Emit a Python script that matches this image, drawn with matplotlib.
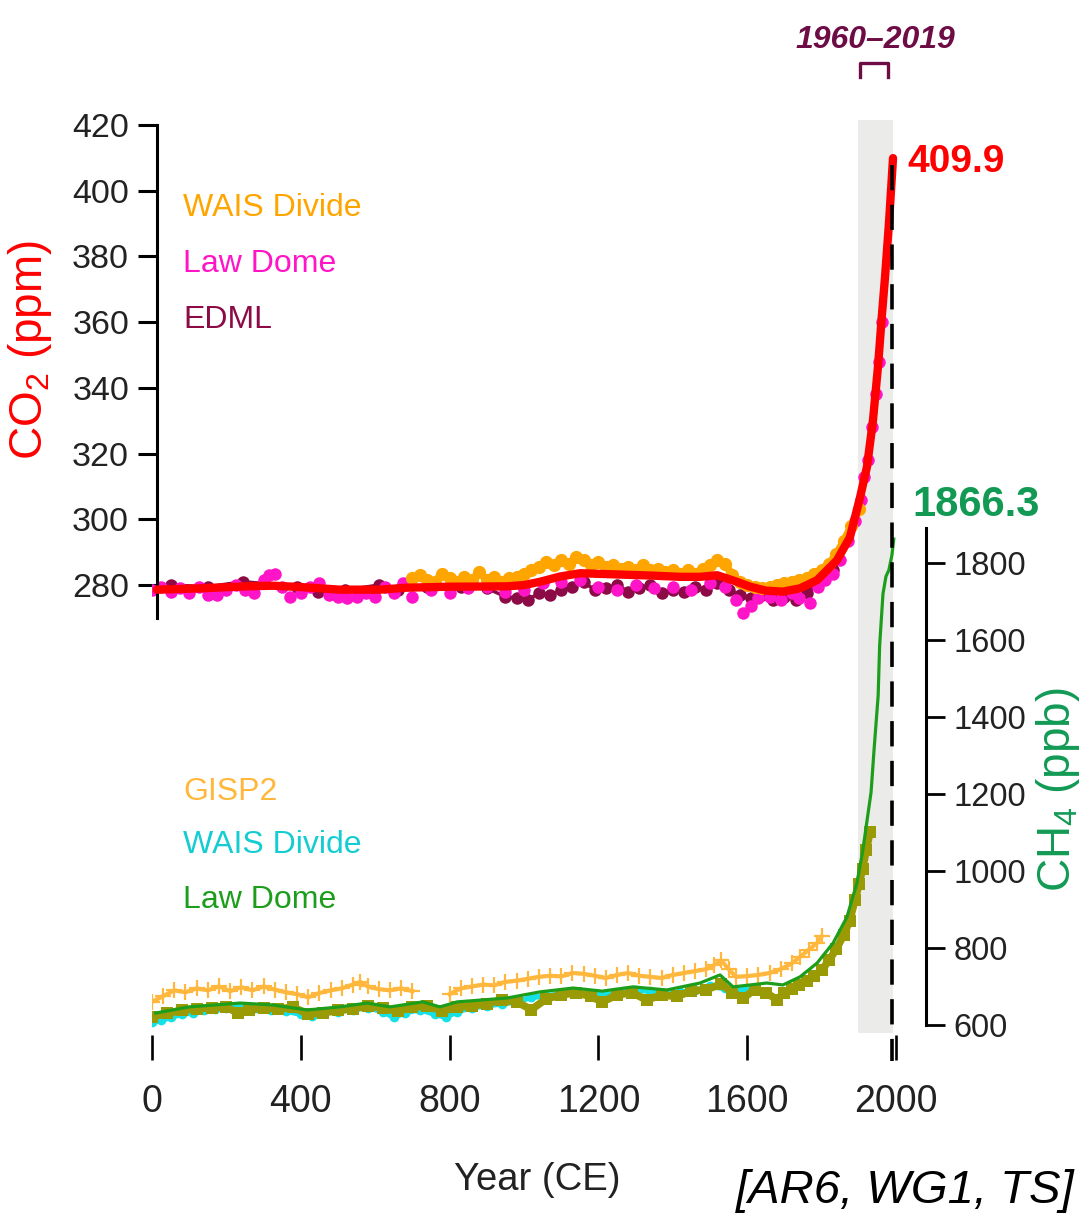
import matplotlib
matplotlib.use("Agg")
import matplotlib.pyplot as plt
from matplotlib.lines import Line2D
import numpy as np

W, H = 1081, 1215

# ---------------- data ----------------
# CO2 smoothed curve (ppm)
co2_fit_year = [13, 129, 250, 325, 400, 505, 613, 685, 801, 954, 1000, 1043, 1097, 1151,
                1258, 1339, 1420, 1473, 1519, 1567, 1608, 1650, 1696, 1742, 1788,
                1841, 1876, 1903, 1922, 1938, 1952, 1962, 1970, 1981, 1992]
co2_fit_ppm = [278.6, 279.0, 279.6, 279.8, 279.4, 278.6, 278.6, 279.2, 279.5, 279.6,
               280.0, 281.0, 282.6, 283.6, 283.2, 282.9, 282.5, 282.5, 283.0, 281.2,
               279.5, 278.3, 278.0, 279.0, 281.5, 287.5, 294.5, 306.5, 316.0, 330.0,
               347.0, 362.0, 373.0, 390.0, 409.9]

# CO2 WAIS Divide
wais_co2_year = list(range(700, 1901, 20))
wais_co2_ppm = [282.0, 283.0, 281.5, 281.0, 283.5, 282.0, 281.0, 282.5, 281.5, 284.0,
                281.5, 282.5, 281.0, 282.0, 282.5, 283.5, 284.5, 285.5, 287.0, 286.0,
                287.5, 286.5, 288.5, 287.5, 286.0, 287.0, 285.5, 286.0, 285.0, 285.5,
                284.5, 286.0, 284.5, 285.0, 284.0, 284.5, 283.5, 284.5, 283.5, 285.0,
                286.0, 287.5, 286.5, 283.0, 281.0, 280.0, 279.5, 279.0, 279.5, 280.0,
                280.5, 281.0, 281.5, 282.0, 283.5, 284.5, 286.5, 289.5, 293.5, 298.0,
                303.0]

# CO2 Law Dome
law_co2_year = [0, 25, 50, 75, 100, 125, 150, 175, 200, 225, 250, 275, 300, 315, 330,
                350, 370, 400, 425, 450, 475, 500, 525, 550, 575, 600, 625, 650, 675,
                700, 750, 800, 850, 900, 950, 1000, 1050, 1100, 1150, 1200, 1250, 1300,
                1350, 1400, 1450, 1500, 1540, 1570, 1590, 1610, 1630, 1660, 1690, 1720,
                1740, 1770, 1790, 1810, 1830, 1850, 1870, 1890, 1905, 1915, 1925, 1935,
                1945, 1955, 1962]
law_co2_ppm = [278.5, 279.5, 278.0, 279.0, 277.5, 279.5, 277.0, 277.0, 278.5, 280.0,
               278.5, 277.5, 281.5, 283.0, 283.5, 279.5, 276.5, 277.5, 279.5, 280.5,
               277.0, 276.5, 276.0, 276.5, 277.5, 276.5, 279.5, 277.5, 280.5, 276.5,
               278.5, 277.5, 279.0, 279.5, 278.0, 278.5, 280.5, 281.0, 281.5, 279.5,
               278.5, 280.0, 279.0, 279.5, 278.5, 280.5, 279.5, 275.5, 271.5, 273.5,
               276.0, 276.5, 275.5, 277.5, 276.0, 274.5, 279.5, 281.5, 283.5, 287.5,
               293.5, 299.5, 306.0, 313.0, 318.0, 328.0, 338.0, 348.0, 360.0]

# CO2 EDML
edml_year = [50, 150, 245, 300, 390, 445, 520, 610, 660, 740, 830, 900, 950, 980, 1010,
             1040, 1070, 1100, 1130, 1160, 1190, 1220, 1250, 1280, 1310, 1340, 1370,
             1400, 1430, 1460, 1490, 1520, 1550, 1580, 1610, 1640, 1670, 1700, 1730,
             1760, 1790, 1810, 1830]
edml_ppm = [280.0, 279.5, 281.0, 280.5, 279.5, 278.0, 278.5, 280.0, 278.5, 279.5, 279.5,
            279.0, 276.5, 276.0, 275.5, 277.5, 277.0, 278.5, 279.5, 281.0, 278.5, 279.0,
            280.0, 278.0, 279.0, 280.0, 277.5, 278.5, 278.0, 279.5, 278.5, 280.5, 278.5,
            277.0, 276.0, 277.0, 275.5, 276.5, 275.5, 277.5, 280.5, 282.5, 284.5]

# CH4 smoothed curve (ppb)
ch4_fit_year = [10, 100, 237, 325, 417, 505, 578, 640, 728, 774, 820, 954, 1043, 1132,
                1210, 1293, 1384, 1473, 1527, 1562, 1653, 1696, 1742, 1788, 1831, 1868,
                1895, 1911, 1922, 1933, 1941, 1952, 1956, 1965, 1973, 1981, 1989, 1994]
ch4_fit_ppb = [631, 647, 657, 652, 639, 647, 657, 647, 660, 647, 660, 670, 686, 696,
               688, 699, 691, 709, 730, 699, 709, 704, 725, 761, 813, 880, 969, 1055,
               1130, 1205, 1315, 1455, 1585, 1720, 1765, 1782, 1820, 1862]

# CH4 GISP2
gisp_year = [0, 30, 60, 90, 120, 150, 180, 210, 240, 270, 300, 330, 360, 390, 420, 450,
             480, 510, 540, 560, 580, 610, 640, 670, 700, 800, 830, 860, 890, 920, 950,
             980, 1010, 1040, 1070, 1100, 1130, 1160, 1190, 1220, 1250, 1280, 1310,
             1340, 1370, 1400, 1430, 1460, 1490, 1510, 1530, 1550, 1570, 1600, 1630,
             1660, 1690, 1720, 1742, 1765, 1788, 1800]
gisp_ppb = [660, 675, 690, 685, 695, 690, 700, 688, 698, 690, 700, 692, 685, 680, 672,
            683, 690, 695, 705, 712, 700, 693, 690, 695, 688, 680, 695, 700, 705, 703,
            712, 715, 720, 725, 728, 726, 735, 733, 728, 722, 730, 735, 728, 725, 722,
            730, 735, 740, 745, 755, 768, 745, 725, 727, 730, 735, 745, 760, 777, 795,
            813, 830]

# CH4 WAIS Divide
wais_ch4_year = [0, 25, 50, 80, 110, 140, 170, 200, 240, 280, 320, 360, 400, 430, 460,
                 500, 540, 580, 620, 650, 680, 720, 760, 790, 820, 860, 900, 940, 980,
                 1020, 1060, 1100, 1140, 1180, 1220, 1260, 1300, 1340, 1380, 1420, 1460,
                 1500, 1540, 1580, 1620]
wais_ch4_ppb = [608, 612, 620, 628, 632, 638, 642, 645, 648, 645, 640, 636, 628, 624,
                630, 635, 640, 645, 635, 620, 632, 640, 628, 620, 635, 645, 650, 655,
                660, 672, 675, 682, 685, 680, 678, 685, 690, 688, 680, 685, 690, 700,
                695, 690, 695]

# CH4 Law Dome
law_ch4_year = [0, 40, 80, 120, 160, 200, 230, 260, 300, 340, 380, 420, 460, 500, 540,
                580, 620, 660, 700, 740, 780, 820, 860, 900, 940, 980, 1020, 1060, 1100,
                1140, 1180, 1210, 1250, 1290, 1330, 1370, 1410, 1450, 1490, 1530, 1560,
                1590, 1620, 1650, 1680, 1700, 1720, 1740, 1760, 1780, 1800, 1820, 1840,
                1860, 1875, 1890, 1900, 1910, 1920, 1930]
law_ch4_ppb = [622, 630, 638, 642, 645, 646, 632, 638, 645, 642, 646, 628, 632, 638,
               642, 650, 644, 636, 646, 650, 636, 646, 650, 655, 665, 660, 640, 668,
               678, 684, 674, 660, 678, 684, 665, 678, 674, 688, 692, 706, 684, 670,
               692, 684, 666, 684, 694, 704, 714, 728, 742, 768, 798, 835, 870, 925,
               965, 1005, 1055, 1100]

co2_ticks = [280, 300, 320, 340, 360, 380, 400, 420]
ch4_ticks = [600, 800, 1000, 1200, 1400, 1600, 1800]
year_ticks = [0, 400, 800, 1200, 1600, 2000]
band_years = [1898, 1992]
period_end_year = 1989
co2_last, ch4_last = "409.9", "1866.3"

# ---------------- fonts ----------------
plt.rcParams["font.family"] = ["Liberation Sans", "DejaVu Sans"]
plt.rcParams["mathtext.fontset"] = "custom"
plt.rcParams["mathtext.rm"] = "Liberation Sans"
plt.rcParams["mathtext.it"] = "Liberation Sans:italic"


def with_gaps(years, values, max_step=60):
    """Break the connecting line where the record has a gap."""
    xs, ys = [years[0]], [values[0]]
    for i in range(1, len(years)):
        if years[i] - years[i - 1] > max_step:
            xs.append(np.nan)
            ys.append(np.nan)
        xs.append(years[i])
        ys.append(values[i])
    return xs, ys


# ---------------- figure ----------------
fig = plt.figure(figsize=(W / 100, H / 100), dpi=100)
ax = fig.add_axes([152 / W, 1 - 1035 / H, 774 / W, 915 / H])
ax.set_xlim(0, 774 / 0.372)
ax.set_ylim(143.1, 421.5)
ax.patch.set_visible(False)
ax2 = ax.twinx()
ax2.set_ylim(574.0, 2950.6)


def fx(x):
    return x / W


def fy(y):
    return 1 - y / H


# grey period band
ax.axvspan(band_years[0], band_years[1], ymin=0.002, ymax=1.0,
           color="#ebebea", zorder=0, lw=0)

# CO2 records
ax.plot(edml_year, edml_ppm, "o-", color="#8c0a46", ms=9, mew=0, lw=2.5, zorder=2)
ax.plot(law_co2_year, law_co2_ppm, "o", color="#ff14c8", ms=9, mew=0, zorder=2.5)
ax.plot(wais_co2_year, wais_co2_ppm, "o-", color="#ffa500", ms=9.5, mew=0, lw=5.5, zorder=3)
ax.plot(co2_fit_year, co2_fit_ppm, "-", color="#ff0000", lw=6, zorder=4,
        solid_capstyle="round", solid_joinstyle="round")

# CH4 records
gx, gy = with_gaps(gisp_year, gisp_ppb)
ax2.plot(gx, gy, "+-", color="#ffb83d", ms=12, mew=1.6, lw=3, zorder=2)
ax2.plot(wais_ch4_year, wais_ch4_ppb, "o-", color="#14e0e6", ms=7, mew=0, lw=4, zorder=2.2)
ax2.plot(law_ch4_year, law_ch4_ppb, "s-", color="#9a9a05", ms=8.5, mew=0, lw=5.5, zorder=2.5)
ax2.plot(ch4_fit_year, ch4_fit_ppb, "-", color="#1c9e1c", lw=2.3, zorder=3)

# dashed line at end of period
ax2.plot([period_end_year, period_end_year], [0.951, -0.028], color="black", lw=2.6,
         dashes=(7, 4), transform=ax2.get_xaxis_transform(), clip_on=False, zorder=6)

# spines / ticks
for s in ["top", "right", "bottom"]:
    ax.spines[s].set_visible(False)
ax.spines["left"].set_position(("data", 13))
ax.spines["left"].set_bounds(270, 420)
ax.spines["left"].set_linewidth(2.2)
for s in ["top", "left", "bottom"]:
    ax2.spines[s].set_visible(False)
ax2.spines["right"].set_bounds(600, 1890)
ax2.spines["right"].set_linewidth(2.2)

ax.set_xticks(year_ticks)
ax.set_xticklabels([str(v) for v in year_ticks])
ax.tick_params(axis="x", direction="out", length=18, width=1.9, pad=17,
               labelsize=27, colors="black", labelcolor="#222222")
ax.set_yticks(co2_ticks)
ax.tick_params(axis="y", direction="out", length=14, width=2.2, pad=6,
               labelsize=24.5, labelcolor="#222222")
ax2.set_yticks(ch4_ticks)
ax2.tick_params(axis="y", direction="out", length=14, width=2.0, pad=6,
                labelsize=23.5, labelcolor="#222222")

# axis labels
fig.text(fx(537), fy(1180), "Year (CE)", fontsize=27.5, color="#222222",
         ha="center", va="center")
fig.text(fx(30), fy(350), r"CO$_2$ (ppm)", fontsize=33, color="#ff0000",
         rotation=90, ha="center", va="center")
fig.text(fx(1058), fy(790), r"CH$_4$ (ppb)", fontsize=33, color="#129a55",
         rotation=90, ha="center", va="center")

# record labels
lab = dict(fontsize=23, va="baseline")
fig.text(fx(183), fy(216), "WAIS Divide", color="#ffa500", **lab)
fig.text(fx(183), fy(272), "Law Dome", color="#ff14c8", **lab)
fig.text(fx(183), fy(328), "EDML", color="#8c0a46", **lab)
fig.text(fx(183), fy(800), "GISP2", color="#ffb83d", **lab)
fig.text(fx(183), fy(853), "WAIS Divide", color="#14cdd2", **lab)
fig.text(fx(183), fy(908), "Law Dome", color="#1c9e1c", **lab)

# end values
fig.text(fx(907), fy(172), co2_last, fontsize=28, color="#ff0000",
         fontweight="bold", va="baseline")
fig.text(fx(912), fy(516), ch4_last, fontsize=30, color="#129a55",
         fontweight="bold", va="baseline")

# period label and bracket
fig.text(fx(875), fy(48), "1960\u20132019", fontsize=23, color="#6e0d45",
         fontweight="bold", fontstyle="italic", ha="center", va="baseline")
fig.add_artist(Line2D([fx(860), fx(860), fx(888), fx(888)],
                      [fy(77), fy(63), fy(63), fy(77)], color="#6e0d45", lw=2.4,
                      transform=fig.transFigure))

# source
fig.text(fx(1075), fy(1203), "[AR6, WG1, TS]", fontsize=34, color="black",
         fontstyle="italic", ha="right", va="baseline")

fig.savefig("out.png", dpi=100)
